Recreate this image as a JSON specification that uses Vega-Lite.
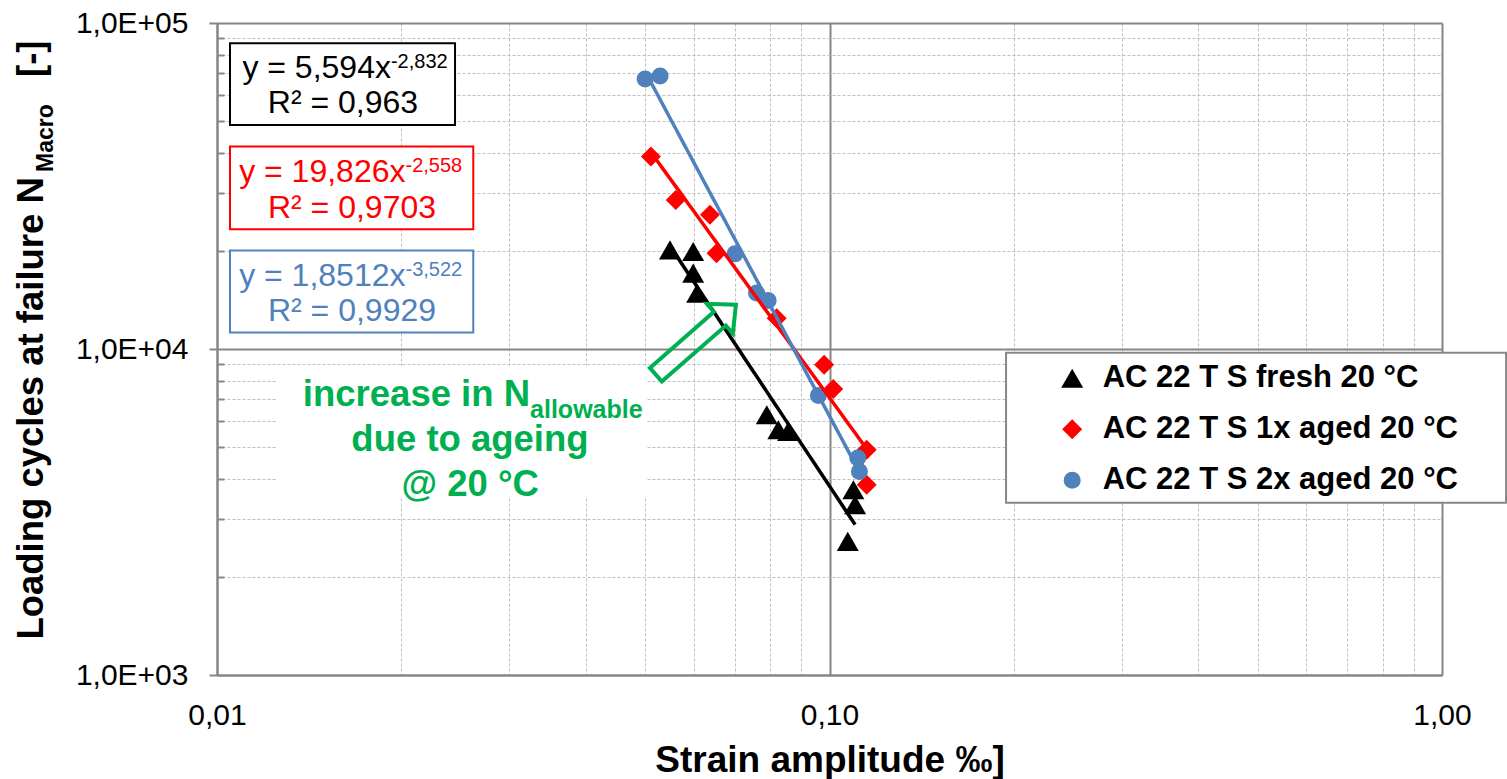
{
  "$schema": "https://vega.github.io/schema/vega-lite/v6.json",
  "width": 1225,
  "height": 652,
  "autosize": {"type": "none"},
  "padding": {"left": 217, "top": 23, "right": 65, "bottom": 104},
  "background": "white",
  "config": {"view": {"stroke": null}, "font": "Liberation Sans"},
  "datasets": {
    "fatigue": [
      {"series": "AC 22 T S fresh 20 °C", "strain": 0.0549, "N": 20140},
      {"series": "AC 22 T S fresh 20 °C", "strain": 0.0599, "N": 19900},
      {"series": "AC 22 T S fresh 20 °C", "strain": 0.0599, "N": 17090},
      {"series": "AC 22 T S fresh 20 °C", "strain": 0.0608, "N": 14840},
      {"series": "AC 22 T S fresh 20 °C", "strain": 0.0790, "N": 6285},
      {"series": "AC 22 T S fresh 20 °C", "strain": 0.0825, "N": 5653},
      {"series": "AC 22 T S fresh 20 °C", "strain": 0.0856, "N": 5586},
      {"series": "AC 22 T S fresh 20 °C", "strain": 0.1094, "N": 3702},
      {"series": "AC 22 T S fresh 20 °C", "strain": 0.1101, "N": 3330},
      {"series": "AC 22 T S fresh 20 °C", "strain": 0.1071, "N": 2570},
      {"series": "AC 22 T S 1x aged 20 °C", "strain": 0.0511, "N": 38920},
      {"series": "AC 22 T S 1x aged 20 °C", "strain": 0.0561, "N": 28670},
      {"series": "AC 22 T S 1x aged 20 °C", "strain": 0.0638, "N": 25790},
      {"series": "AC 22 T S 1x aged 20 °C", "strain": 0.0654, "N": 19680},
      {"series": "AC 22 T S 1x aged 20 °C", "strain": 0.0820, "N": 12435},
      {"series": "AC 22 T S 1x aged 20 °C", "strain": 0.0980, "N": 8946},
      {"series": "AC 22 T S 1x aged 20 °C", "strain": 0.1014, "N": 7535},
      {"series": "AC 22 T S 1x aged 20 °C", "strain": 0.1150, "N": 4909},
      {"series": "AC 22 T S 1x aged 20 °C", "strain": 0.1150, "N": 3835},
      {"series": "AC 22 T S 2x aged 20 °C", "strain": 0.0500, "N": 67350},
      {"series": "AC 22 T S 2x aged 20 °C", "strain": 0.0529, "N": 68780},
      {"series": "AC 22 T S 2x aged 20 °C", "strain": 0.0701, "N": 19580},
      {"series": "AC 22 T S 2x aged 20 °C", "strain": 0.0760, "N": 14840},
      {"series": "AC 22 T S 2x aged 20 °C", "strain": 0.0794, "N": 14080},
      {"series": "AC 22 T S 2x aged 20 °C", "strain": 0.0959, "N": 7200},
      {"series": "AC 22 T S 2x aged 20 °C", "strain": 0.1112, "N": 4630},
      {"series": "AC 22 T S 2x aged 20 °C", "strain": 0.1119, "N": 4212}
    ]
  },
  "layer": [
    {
      "data": {"values": [{}]},
      "mark": {"type": "rect", "fill": "white", "stroke": "black", "strokeWidth": 2},
      "encoding": {
        "x": {"datum": 0.010501}, "x2": {"datum": 0.02447},
        "y": {"datum": 86640}, "y2": {"datum": 48680}
      }
    },
    {
      "data": {"values": [{}]},
      "mark": {"type": "rect", "fill": "white", "stroke": "#FF0000", "strokeWidth": 2},
      "encoding": {
        "x": {"datum": 0.010501}, "x2": {"datum": 0.026206},
        "y": {"datum": 41770}, "y2": {"datum": 23310}
      }
    },
    {
      "data": {"values": [{}]},
      "mark": {"type": "rect", "fill": "white", "stroke": "#4F81BD", "strokeWidth": 2},
      "encoding": {
        "x": {"datum": 0.010501}, "x2": {"datum": 0.026206},
        "y": {"datum": 20040}, "y2": {"datum": 11235}
      }
    },
    {
      "data": {"values": [{}]},
      "mark": {"type": "rect", "fill": "white", "stroke": null},
      "encoding": {
        "x": {"datum": 0.012483}, "x2": {"datum": 0.05036},
        "y": {"datum": 8882}, "y2": {"datum": 3523}
      }
    },
    {
      "data": {"values": [{}]},
      "mark": {"type": "rect", "fill": "white", "stroke": "#868686", "strokeWidth": 2},
      "encoding": {
        "x": {"datum": 0.1942}, "x2": {"datum": 1.2723},
        "y": {"datum": 9735}, "y2": {"datum": 3378}
      }
    },
    {
      "data": {"name": "fatigue"},
      "mark": {"type": "point", "filled": true, "opacity": 1, "strokeWidth": 0},
      "encoding": {
        "x": {
          "field": "strain", "type": "quantitative",
          "scale": {"type": "log", "domain": [0.01, 1], "nice": false},
          "axis": {
            "title": "Strain amplitude ‰]",
            "titleFont": "Liberation Sans", "titleFontSize": 37, "titleFontWeight": "bold", "titleColor": "black",
            "titleBaseline": "alphabetic", "titleY": 96,
            "values": [0.01, 0.02, 0.03, 0.04, 0.05, 0.06, 0.07, 0.08, 0.09, 0.1, 0.2, 0.3, 0.4, 0.5, 0.6, 0.7, 0.8, 0.9, 1],
            "labelExpr": "datum.value == 0.01 ? '0,01' : datum.value == 0.1 ? '0,10' : datum.value == 1 ? '1,00' : ''",
            "labelFont": "Liberation Sans", "labelFontSize": 30, "labelColor": "black",
            "labelBaseline": "alphabetic", "labelPadding": 49, "labelFlush": false, "labelOverlap": false,
            "ticks": false,
            "domainColor": "#868686", "domainWidth": 2,
            "grid": true,
            "gridColor": {"condition": {"test": "abs(log(datum.value)/LN10 - round(log(datum.value)/LN10)) < 0.001", "value": "#868686"}, "value": "#BFBFBF"},
            "gridWidth": {"condition": {"test": "abs(log(datum.value)/LN10 - round(log(datum.value)/LN10)) < 0.001", "value": 2}, "value": 1},
            "gridDash": {"condition": {"test": "abs(log(datum.value)/LN10 - round(log(datum.value)/LN10)) < 0.001", "value": []}, "value": [3, 2]}
          }
        },
        "y": {
          "field": "N", "type": "quantitative",
          "scale": {"type": "log", "domain": [1000, 100000], "nice": false},
          "axis": {
            "title": null,
            "values": [1000, 2000, 3000, 4000, 5000, 6000, 7000, 8000, 9000, 10000, 20000, 30000, 40000, 50000, 60000, 70000, 80000, 90000, 100000],
            "labelExpr": "datum.value == 1000 ? '1,0E+03' : datum.value == 10000 ? '1,0E+04' : datum.value == 100000 ? '1,0E+05' : ''",
            "labelFont": "Liberation Sans", "labelFontSize": 30, "labelColor": "black",
            "labelBaseline": "middle", "labelPadding": 21, "labelFlush": false, "labelOverlap": false,
            "tickSize": {"condition": {"test": "abs(log(datum.value)/LN10 - round(log(datum.value)/LN10)) < 0.001", "value": 8}, "value": -7},
            "tickColor": "#868686", "tickWidth": 2,
            "domainColor": "#868686", "domainWidth": 2,
            "grid": true,
            "gridColor": {"condition": {"test": "abs(log(datum.value)/LN10 - round(log(datum.value)/LN10)) < 0.001", "value": "#868686"}, "value": "#BFBFBF"},
            "gridWidth": {"condition": {"test": "abs(log(datum.value)/LN10 - round(log(datum.value)/LN10)) < 0.001", "value": 2}, "value": 1},
            "gridDash": {"condition": {"test": "abs(log(datum.value)/LN10 - round(log(datum.value)/LN10)) < 0.001", "value": []}, "value": [3, 2]}
          }
        },
        "color": {
          "field": "series", "type": "nominal",
          "scale": {"domain": ["AC 22 T S fresh 20 °C", "AC 22 T S 1x aged 20 °C", "AC 22 T S 2x aged 20 °C"], "range": ["#000000", "#FF0000", "#4F81BD"]},
          "legend": {
            "title": null, "orient": "none", "legendX": 839.7, "legendY": 339.8,
            "labelFont": "Liberation Sans", "labelFontSize": 31, "labelFontWeight": "bold", "labelColor": "black",
            "labelLimit": 600, "symbolSize": 440, "rowPadding": 19, "labelOffset": 15, "padding": 0,
            "symbolStrokeWidth": 0
          }
        },
        "shape": {
          "field": "series", "type": "nominal",
          "scale": {"domain": ["AC 22 T S fresh 20 °C", "AC 22 T S 1x aged 20 °C", "AC 22 T S 2x aged 20 °C"], "range": ["triangle-up", "diamond", "circle"]},
          "legend": {
            "title": null, "orient": "none", "legendX": 839.7, "legendY": 339.8,
            "labelFont": "Liberation Sans", "labelFontSize": 31, "labelFontWeight": "bold", "labelColor": "black",
            "labelLimit": 600, "symbolSize": 440, "rowPadding": 19, "labelOffset": 15, "padding": 0,
            "symbolStrokeWidth": 0
          }
        },
        "size": {
          "field": "series", "type": "nominal",
          "scale": {"type": "ordinal", "domain": ["AC 22 T S fresh 20 °C", "AC 22 T S 1x aged 20 °C", "AC 22 T S 2x aged 20 °C"], "range": [484, 400, 289]},
          "legend": null
        }
      }
    },
    {
      "data": {"name": "fatigue"},
      "transform": [{"regression": "N", "on": "strain", "method": "pow", "groupby": ["series"]}],
      "mark": {"type": "line", "strokeWidth": 3.5},
      "encoding": {
        "x": {"field": "strain", "type": "quantitative"},
        "y": {"field": "N", "type": "quantitative"},
        "stroke": {
          "field": "series", "type": "nominal",
          "scale": {"domain": ["AC 22 T S fresh 20 °C", "AC 22 T S 1x aged 20 °C", "AC 22 T S 2x aged 20 °C"], "range": ["#000000", "#FF0000", "#4F81BD"]},
          "legend": null
        }
      }
    },
    {
      "data": {"values": [{}]},
      "mark": {"type": "text", "text": "y = 5,594x", "font": "Liberation Sans", "fontSize": 32, "color": "black", "align": "right", "baseline": "alphabetic"},
      "encoding": {"x": {"datum": 0.019231}, "y": {"datum": 67680}}
    },
    {
      "data": {"values": [{}]},
      "mark": {"type": "text", "text": "-2,832", "font": "Liberation Sans", "fontSize": 20, "color": "black", "align": "left", "baseline": "alphabetic"},
      "encoding": {"x": {"datum": 0.019231}, "y": {"datum": 72620}}
    },
    {
      "data": {"values": [{}]},
      "mark": {"type": "text", "text": "R² = 0,963", "font": "Liberation Sans", "fontSize": 32, "color": "black", "align": "center", "baseline": "alphabetic"},
      "encoding": {"x": {"datum": 0.016057}, "y": {"datum": 52870}}
    },
    {
      "data": {"values": [{}]},
      "mark": {"type": "text", "text": "y = 19,826x", "font": "Liberation Sans", "fontSize": 32, "color": "#FF0000", "align": "right", "baseline": "alphabetic"},
      "encoding": {"x": {"datum": 0.020311}, "y": {"datum": 32620}}
    },
    {
      "data": {"values": [{}]},
      "mark": {"type": "text", "text": "-2,558", "font": "Liberation Sans", "fontSize": 20, "color": "#FF0000", "align": "left", "baseline": "alphabetic"},
      "encoding": {"x": {"datum": 0.020311}, "y": {"datum": 35010}}
    },
    {
      "data": {"values": [{}]},
      "mark": {"type": "text", "text": "R² = 0,9703", "font": "Liberation Sans", "fontSize": 32, "color": "#FF0000", "align": "center", "baseline": "alphabetic"},
      "encoding": {"x": {"datum": 0.01661}, "y": {"datum": 25190}}
    },
    {
      "data": {"values": [{}]},
      "mark": {"type": "text", "text": "y = 1,8512x", "font": "Liberation Sans", "fontSize": 32, "color": "#4F81BD", "align": "right", "baseline": "alphabetic"},
      "encoding": {"x": {"datum": 0.020311}, "y": {"datum": 15625}}
    },
    {
      "data": {"values": [{}]},
      "mark": {"type": "text", "text": "-3,522", "font": "Liberation Sans", "fontSize": 20, "color": "#4F81BD", "align": "left", "baseline": "alphabetic"},
      "encoding": {"x": {"datum": 0.020311}, "y": {"datum": 16765}}
    },
    {
      "data": {"values": [{}]},
      "mark": {"type": "text", "text": "R² = 0,9929", "font": "Liberation Sans", "fontSize": 32, "color": "#4F81BD", "align": "center", "baseline": "alphabetic"},
      "encoding": {"x": {"datum": 0.01661}, "y": {"datum": 12145}}
    },
    {
      "data": {"values": [{}]},
      "mark": {"type": "text", "text": "increase in N", "font": "Liberation Sans", "fontSize": 36.5, "fontWeight": "bold", "color": "#00B050", "align": "right", "baseline": "alphabetic"},
      "encoding": {"x": {"datum": 0.032443}, "y": {"datum": 6664}}
    },
    {
      "data": {"values": [{}]},
      "mark": {"type": "text", "text": "allowable", "font": "Liberation Sans", "fontSize": 25, "fontWeight": "bold", "color": "#00B050", "align": "left", "baseline": "alphabetic"},
      "encoding": {"x": {"datum": 0.032443}, "y": {"datum": 6140}}
    },
    {
      "data": {"values": [{}]},
      "mark": {"type": "text", "text": "due to ageing", "font": "Liberation Sans", "fontSize": 36.5, "fontWeight": "bold", "color": "#00B050", "align": "center", "baseline": "alphabetic"},
      "encoding": {"x": {"datum": 0.025883}, "y": {"datum": 4852}}
    },
    {
      "data": {"values": [{}]},
      "mark": {"type": "text", "text": "@ 20 °C", "font": "Liberation Sans", "fontSize": 36.5, "fontWeight": "bold", "color": "#00B050", "align": "center", "baseline": "alphabetic"},
      "encoding": {"x": {"datum": 0.0259}, "y": {"datum": 3548}}
    },
    {
      "data": {"values": [{}]},
      "mark": {
        "type": "point",
        "shape": "M -1 -0.17 L 0.6 -0.17 L 0.6 -0.37 L 1 0 L 0.6 0.37 L 0.6 0.17 L -1 0.17 Z",
        "filled": false, "fill": null, "stroke": "#00B050", "strokeWidth": 4, "opacity": 1,
        "size": 11321, "angle": 318.8
      },
      "encoding": {"x": {"datum": 0.060514}, "y": {"datum": 10679}}
    },
    {
      "data": {"values": [{}]},
      "mark": {"type": "text", "text": "Loading cycles at failure N", "font": "Liberation Sans", "fontSize": 36.5, "fontWeight": "bold", "color": "black", "align": "left", "baseline": "alphabetic", "angle": 270},
      "encoding": {"x": {"datum": 0.0051998}, "y": {"datum": 1284}}
    },
    {
      "data": {"values": [{}]},
      "mark": {"type": "text", "text": "Macro", "font": "Liberation Sans", "fontSize": 23, "fontWeight": "bold", "color": "black", "align": "left", "baseline": "alphabetic", "angle": 270},
      "encoding": {"x": {"datum": 0.005399}, "y": {"datum": 34940}}
    },
    {
      "data": {"values": [{}]},
      "mark": {"type": "text", "text": "[-]", "font": "Liberation Sans", "fontSize": 36.5, "fontWeight": "bold", "color": "black", "align": "left", "baseline": "alphabetic", "angle": 270},
      "encoding": {"x": {"datum": 0.0051998}, "y": {"datum": 68300}}
    }
  ]
}
